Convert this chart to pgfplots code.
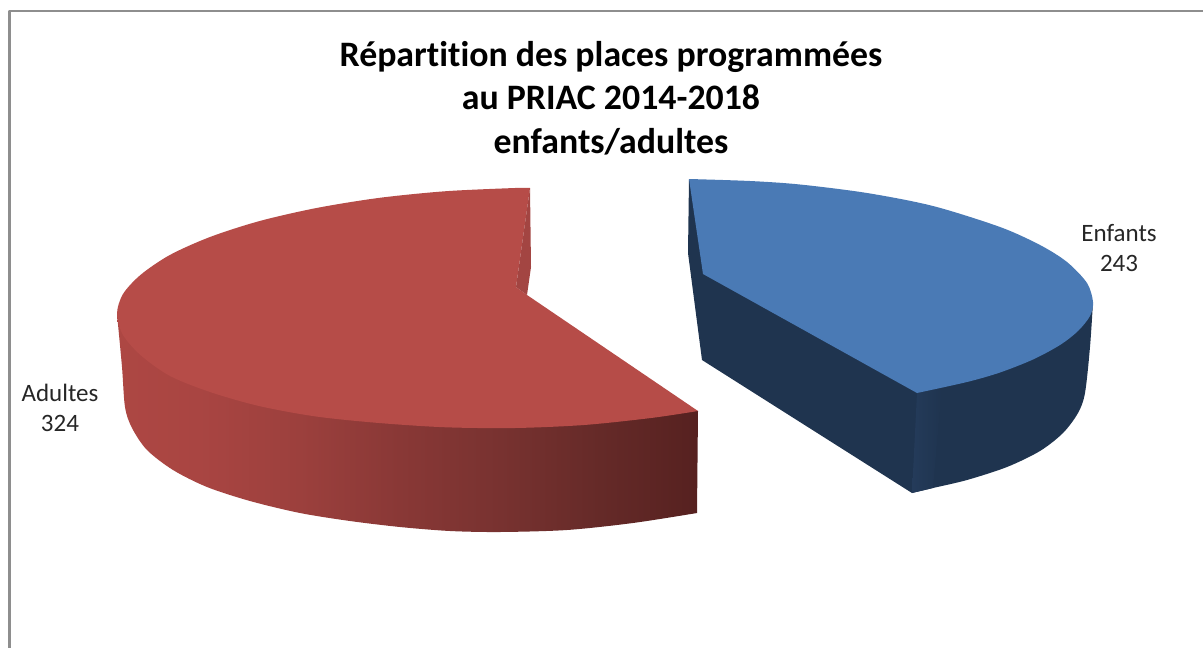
\documentclass[border=0pt]{standalone}
\usepackage{pgfplots}
\pgfplotsset{compat=1.18}
\usepackage{fontspec}
\setmainfont{Carlito}[Ligatures=CommonOff]
\definecolor{frameC}{HTML}{8E8E8E}
\definecolor{redTop}{HTML}{B64C48}
\definecolor{redIn}{HTML}{A34542}
\definecolor{rA}{HTML}{AD4743}
\definecolor{rB}{HTML}{A94542}
\definecolor{rC}{HTML}{9C403D}
\definecolor{rD}{HTML}{893836}
\definecolor{rE}{HTML}{783230}
\definecolor{rF}{HTML}{652A28}
\definecolor{rG}{HTML}{562120}
\definecolor{blueTop}{HTML}{4A7AB5}
\definecolor{blueDark}{HTML}{1F344F}
\definecolor{blueStrip}{HTML}{243B5A}
\pgfdeclarehorizontalshading{redside}{100bp}{color(0bp)=(rA);color(25bp)=(rA);color(32bp)=(rB);color(40.7bp)=(rC);color(49.3bp)=(rD);color(58bp)=(rE);color(66.6bp)=(rF);color(75bp)=(rG);color(100bp)=(rG)}
\begin{document}
\begin{tikzpicture}
\begin{axis}[
  scale only axis, width=1203pt, height=648pt,
  xmin=0, xmax=1203, ymin=0, ymax=648, y dir=reverse,
  axis lines=none, ticks=none, no markers, clip=true,
  every axis plot/.append style={line join=round},
]
% invisible plot fixing the picture's bounding box
\addplot[draw=none, sharp plot] coordinates {(0,0) (1203,648)};
% frame
\addplot[frameC, line width=2.4pt, sharp plot] coordinates {(9.5,648) (9.5,11) (1203,11)};
% Adultes (324): side
\addplot[smooth, draw=none, shading=redside] coordinates {
 (117,314) (122,367) (125,407) (132,428) (147,450) (173,470) (207,487) (250,501) (300,513)
 (350,521) (400,527) (450,531) (500,532) (567,530) (633,523) (697,513)}
 -- (axis cs:698,411) -- cycle;
% Adultes: top
\addplot[smooth, draw=none, fill=redTop] coordinates {
 (530,188) (515,188) (446,191.2) (379,197.9) (316,208.1) (259,221.2) (210,237) (170,254.9) (141,274.5) (123,294) (117,314)
 (123,335) (141,355.5) (170,376) (210,392) (259,406) (316,416.5) (379,423) (446,427.3) (515,428) (584,425) (651,418) (698,411)}
 -- (axis cs:527,295) -- (axis cs:516,287) -- cycle;
% Adultes: inner wall
\addplot[sharp plot, draw=none, fill=redIn] coordinates {(530,188) (531,267) (527,295) (516,287)} -- cycle;
% Enfants (243): dark side
\addplot[smooth, draw=none, fill=blueDark] coordinates {
 (1093,302) (1090,347) (1085,393) (1078,413) (1063,433) (1040,451) (1007,467) (967,480) (933,488) (912,493)}
 -- (axis cs:702,360) -- (axis cs:688,253) -- (axis cs:689,179) -- cycle;
\addplot[sharp plot, draw=none, left color=blueStrip, right color=blueDark] coordinates {(917,393) (942,387) (933,488) (912,493)} -- cycle;
% Enfants: top
\addplot[smooth, draw=none, fill=blueTop] coordinates {
 (689,179) (750,181) (800,184.5) (867,193) (933,206) (1000,227) (1040,245) (1067,262) (1087,283) (1093,302)
 (1090,316) (1078,331) (1060,345) (1033,359.5) (1000,372.5) (967,382) (917,393)}
 -- (axis cs:703,274) -- cycle;
% texts
\node[align=center, font=\fontsize{35.8}{43.5}\selectfont\bfseries, text=black] at (axis cs:611,98)
 {Répartition des places programmées\\au PRIAC 2014-2018\\enfants/adultes};
\node[align=center, font=\fontsize{25}{30}\selectfont, text=black!85] at (axis cs:60,408) {Adultes\\324};
\node[align=center, font=\fontsize{25}{30}\selectfont, text=black!85] at (axis cs:1119,248) {Enfants\\243};
\end{axis}
\end{tikzpicture}
\end{document}
